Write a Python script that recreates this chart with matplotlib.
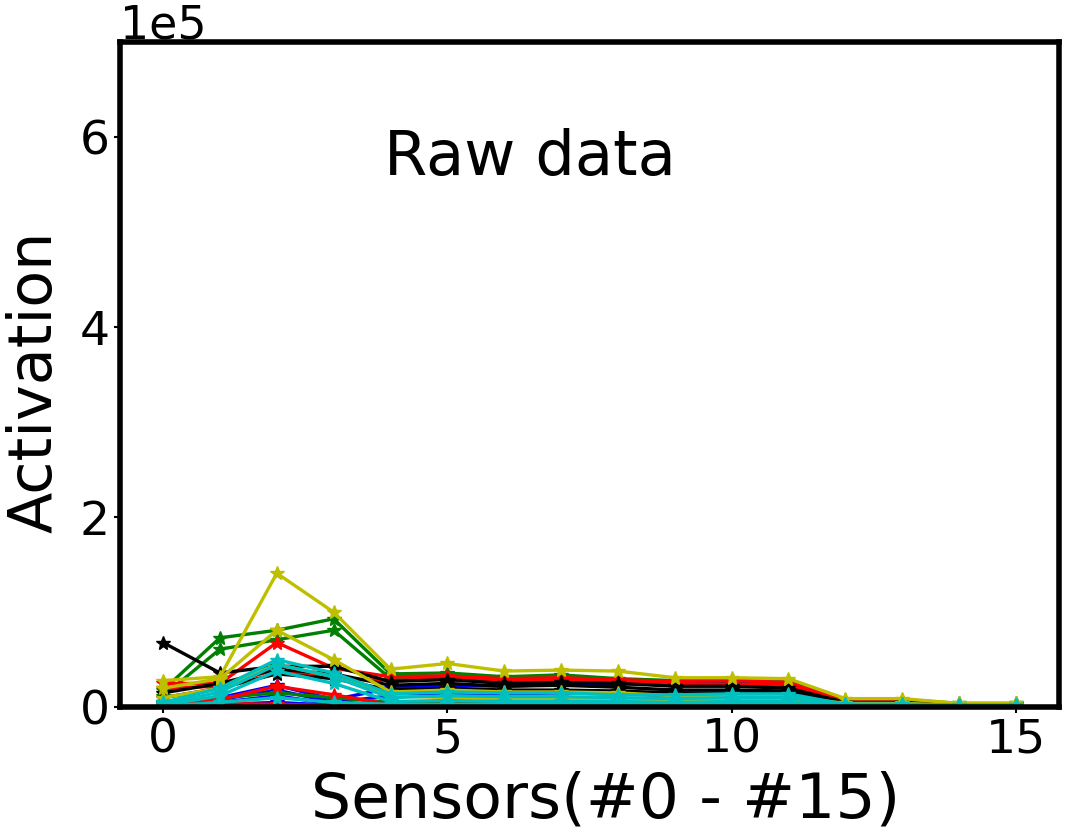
import matplotlib.pyplot as plt
import numpy as np

SCALE = 1e4
sensors = np.arange(16)

# activation per sample (units of 1e4), grouped by line colour
blue = [
    [0.5, 1.0, 2.3, 0.8, 2.0, 2.3, 2.2, 2.4, 2.4, 2.6, 2.6, 2.4, 0.4, 0.4, 0.2, 0.2],
    [0.3, 0.8, 1.8, 0.5, 1.2, 1.5, 1.4, 1.5, 1.4, 1.2, 1.2, 1.1, 0.3, 0.3, 0.2, 0.2],
    [0.2, 0.5, 1.2, 0.3, 0.5, 0.6, 0.5, 0.5, 0.5, 0.4, 0.4, 0.4, 0.2, 0.2, 0.1, 0.1],
    [0.1, 0.3, 0.5, 0.2, 0.2, 0.2, 0.2, 0.2, 0.2, 0.2, 0.2, 0.2, 0.1, 0.1, 0.1, 0.1],
]
green = [
    [1.8, 7.3, 8.1, 9.3, 3.5, 3.6, 3.2, 3.4, 3.0, 2.8, 2.8, 2.7, 0.8, 0.8, 0.4, 0.4],
    [1.2, 6.1, 7.1, 8.1, 3.0, 3.2, 2.8, 3.0, 2.6, 2.4, 2.4, 2.3, 0.7, 0.7, 0.3, 0.3],
    [0.5, 1.0, 1.5, 1.0, 0.5, 0.5, 0.5, 0.5, 0.4, 0.4, 0.4, 0.4, 0.2, 0.2, 0.1, 0.1],
]
red = [
    [2.5, 2.5, 6.8, 4.1, 3.2, 3.3, 3.0, 3.1, 2.9, 2.7, 2.8, 2.6, 0.6, 0.6, 0.3, 0.3],
    [2.0, 2.2, 4.0, 3.0, 2.8, 3.0, 2.7, 2.8, 2.6, 2.4, 2.4, 2.3, 0.5, 0.5, 0.3, 0.3],
    [0.3, 0.8, 2.2, 1.3, 0.3, 0.3, 0.3, 0.2, 0.2, 0.2, 0.2, 0.2, 0.1, 0.1, 0.1, 0.1],
    [0.2, 0.4, 0.3, 0.2, 0.1, 0.1, 0.1, 0.1, 0.1, 0.1, 0.1, 0.1, 0.1, 0.1, 0.0, 0.0],
]
black = [
    [6.8, 3.6, 4.3, 4.3, 2.7, 2.9, 2.5, 2.6, 2.5, 2.2, 2.2, 2.0, 0.5, 0.5, 0.2, 0.2],
    [1.5, 2.5, 4.0, 3.5, 2.3, 2.5, 2.2, 2.3, 2.1, 1.8, 1.8, 1.7, 0.4, 0.4, 0.2, 0.2],
    [1.0, 2.0, 3.5, 3.0, 1.8, 2.0, 1.8, 1.8, 1.7, 1.5, 1.5, 1.4, 0.3, 0.3, 0.2, 0.2],
]
yellow = [
    [2.8, 3.2, 14.1, 10.0, 4.0, 4.6, 3.8, 3.9, 3.8, 3.1, 3.1, 3.0, 0.9, 0.9, 0.4, 0.4],
    [2.0, 3.0, 8.1, 5.0, 1.6, 1.8, 1.6, 1.6, 1.5, 1.2, 1.2, 1.1, 0.4, 0.4, 0.2, 0.2],
    [1.0, 2.0, 4.5, 3.2, 1.2, 1.0, 0.9, 0.9, 0.8, 0.7, 0.7, 0.7, 0.3, 0.3, 0.2, 0.2],
]
cyan = [
    [0.5, 2.0, 5.0, 3.6, 1.4, 1.6, 1.5, 1.5, 1.3, 1.3, 1.4, 1.4, 0.3, 0.3, 0.2, 0.2],
    [0.3, 1.6, 4.5, 3.2, 1.0, 1.2, 1.1, 1.1, 1.0, 0.9, 1.0, 1.0, 0.3, 0.3, 0.2, 0.2],
    [0.2, 1.2, 3.8, 2.5, 0.6, 0.7, 0.6, 0.6, 0.6, 0.5, 0.6, 0.6, 0.2, 0.2, 0.1, 0.1],
    [0.1, 0.5, 1.0, 0.5, 0.3, 0.3, 0.3, 0.3, 0.3, 0.3, 0.3, 0.3, 0.1, 0.1, 0.1, 0.1],
]

groups = [("b", blue), ("g", green), ("r", red), ("k", black), ("y", yellow), ("c", cyan)]

fig = plt.figure(figsize=(10.66, 8.3), dpi=100)
ax = fig.add_axes([0.113, 0.148, 0.880, 0.801])

for color, rows in groups:
    for row in rows:
        ax.plot(sensors, np.array(row) * SCALE, color=color, marker="*",
                markersize=10, linewidth=2.4)

ax.set_ylim(0, 7e5)
ax.set_xticks([0, 5, 10, 15])
ax.set_yticks([0, 2e5, 4e5, 6e5])
ax.ticklabel_format(axis="y", style="sci", scilimits=(0, 0))
ax.yaxis.get_offset_text().set_fontsize(33)
ax.tick_params(labelsize=34, width=1.5, length=4)
for s in ax.spines.values():
    s.set_linewidth(4)

ax.set_xlabel("Sensors(#0 - #15)", fontsize=45.5, labelpad=6)
ax.set_ylabel("Activation", fontsize=43.5, labelpad=11)
ax.xaxis.label.set_x(0.517)
ax.yaxis.label.set_y(0.49)
ax.text(0.437, 0.826, "Raw data", transform=ax.transAxes, fontsize=45,
        ha="center", va="center")

plt.savefig("out.png", dpi=100)
